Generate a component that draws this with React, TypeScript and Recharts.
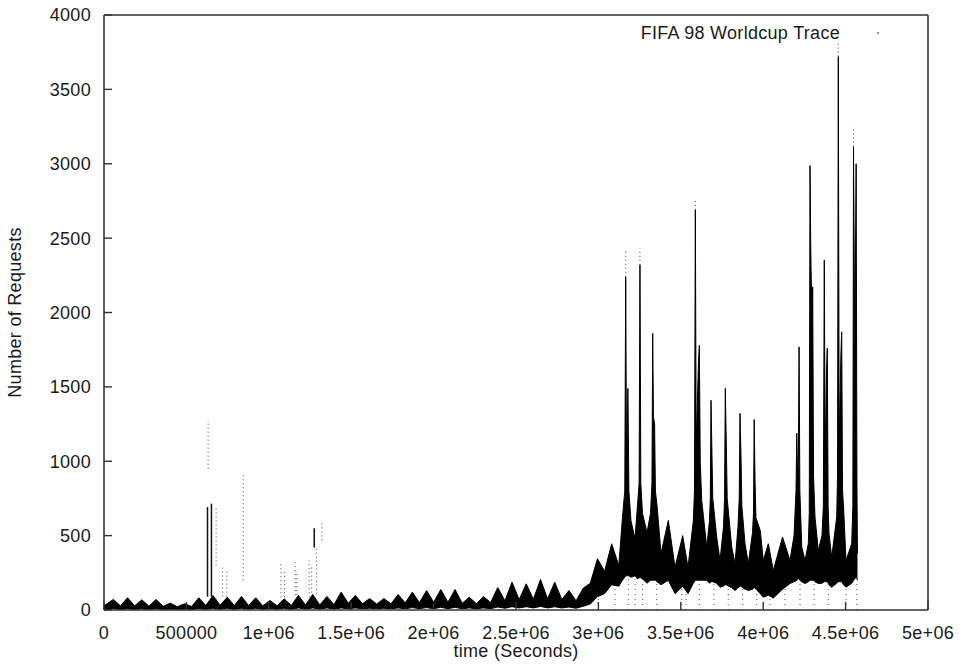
import React from 'react';
import { ComposedChart, Area, XAxis, YAxis, ReferenceLine, Label } from 'recharts';

// Request-rate envelope before the tournament: one sample at each daily
// peak and trough.
const earlyTime = [
  0, 56600, 99800, 143000, 186200, 229400, 272600, 315800, 359000, 402200,
  445400, 488600, 531800, 575000, 618200, 661400, 704600, 747800, 791000, 834200,
  877400, 920600, 963800, 1007000, 1050200, 1093400, 1136600, 1179800, 1223000, 1266200,
  1309400, 1352600, 1395800, 1439000, 1482200, 1525400, 1568600, 1611800, 1655000, 1698200,
  1741400, 1784600, 1827800, 1871000, 1914200, 1957400, 2000600, 2043800, 2087000, 2130200,
  2173400, 2216600, 2259800, 2303000, 2346200, 2389400, 2432600, 2475800, 2519000, 2562200,
  2605400, 2648600, 2691800, 2735000, 2778200, 2821400, 2864600, 2907800, 2951000, 2994200,
  3037400, 3080600, 3123800,
];
const earlyLow = [
  4, 8, 4, 8, 4, 8, 4, 8, 3, 6,
  3, 6, 3, 10, 5, 12, 5, 12, 5, 12,
  5, 12, 5, 10, 5, 12, 5, 14, 6, 14,
  6, 14, 6, 14, 8, 14, 8, 12, 8, 12,
  8, 14, 8, 16, 9, 16, 9, 18, 9, 18,
  8, 14, 8, 14, 9, 20, 12, 22, 14, 22,
  14, 24, 14, 22, 14, 20, 12, 25, 40, 90,
  110, 170, 160,
];
const earlyHigh = [
  28, 71, 28, 82, 28, 69, 26, 71, 25, 46,
  22, 42, 24, 82, 30, 98, 32, 86, 30, 91,
  30, 82, 28, 64, 28, 75, 30, 98, 34, 104,
  34, 91, 36, 120, 45, 98, 42, 77, 40, 77,
  42, 104, 48, 120, 50, 131, 52, 138, 52, 138,
  45, 86, 42, 90, 50, 151, 62, 187, 70, 176,
  72, 205, 75, 187, 70, 131, 62, 147, 180, 345,
  260, 445, 300,
];

// Match days: extra samples around each burst (base, neck, top, shoulder).
const lateTime = [
  3146000, 3160000, 3165700, 3171000, 3179000, 3185000, 3197800, 3222000,
  3237000, 3247000, 3252200, 3257500, 3267400, 3294900,
  3316200, 3325000, 3329500, 3334000, 3341000, 3346000, 3356000, 3379900,
  3424200, 3464900, 3511500, 3543700,
  3576100, 3583000, 3588200, 3593500, 3607000, 3612500, 3618000, 3627000, 3657300,
  3674100, 3679000, 3683300, 3689000, 3694000, 3717900, 3737900,
  3759200, 3765500, 3770100, 3776000, 3781500, 3808900, 3828900,
  3847100, 3854500, 3859200, 3865000, 3870500, 3889600, 3909600,
  3935000, 3941000, 3945300, 3950500, 3956000, 3982100, 4000600,
  4031000, 4061400, 4117400, 4162600,
  4187000, 4199000, 4203800, 4209000, 4213500, 4217700, 4222500, 4234100, 4253700,
  4273700, 4279500, 4284000, 4289000, 4295000, 4300400, 4305500, 4314400, 4334400,
  4356700, 4365000, 4370700, 4376000, 4384000, 4388900, 4394000, 4399300, 4415700,
  4446000, 4451000, 4455700, 4461000, 4471000, 4476300, 4481500, 4487300, 4502500,
  4537000, 4544000, 4548000, 4556000, 4564000, 4569000, 4572000,
];
const lateLow = [
  200, 220, 230, 230, 230, 230, 220, 230,
  210, 215, 220, 215, 210, 180,
  200, 200, 200, 200, 200, 200, 190, 170,
  200, 110, 160, 110,
  180, 190, 200, 200, 200, 200, 200, 200, 200,
  180, 185, 190, 190, 190, 180, 153,
  160, 165, 170, 170, 165, 150, 131,
  150, 155, 160, 160, 155, 140, 131,
  140, 145, 150, 150, 140, 110, 86,
  100, 80, 140, 178,
  190, 195, 200, 205, 210, 210, 200, 190, 178,
  190, 195, 200, 200, 200, 200, 200, 190, 178,
  180, 185, 190, 190, 190, 190, 180, 170, 153,
  180, 185, 190, 190, 190, 190, 180, 170, 153,
  180, 190, 200, 210, 220, 210, 200,
];
const lateHigh = [
  620, 800, 2240, 900, 1490, 800, 600, 480,
  700, 850, 2320, 850, 650, 520,
  650, 850, 1860, 1300, 1250, 800, 700, 380,
  602, 288, 500, 288,
  600, 800, 2690, 1100, 1660, 1780, 1000, 737, 423,
  600, 750, 1410, 1053, 750, 490, 333,
  560, 750, 1490, 1120, 750, 423, 313,
  560, 750, 1322, 1054, 700, 445, 313,
  520, 650, 1280, 870, 620, 535, 333,
  445, 266, 490, 333,
  500, 800, 1188, 900, 1000, 1769, 800, 423, 333,
  445, 650, 2985, 2400, 2000, 2173, 900, 625, 400,
  500, 700, 2352, 1000, 1600, 1760, 700, 515, 355,
  625, 900, 3720, 1100, 1700, 1870, 800, 700, 333,
  445, 700, 3115, 1750, 3000, 800, 380,
];

// Thinly scattered samples (drawn as dotted columns)
const sparseTime = [632000, 680000, 720000, 745000, 845000, 1074000, 1095000, 1160000, 1170000, 1245000, 1260000, 1290000, 1322000, 3165700, 3252200, 3588200, 4284000, 4455700, 4548000];
const sparseLow = [950, 300, 90, 90, 200, 86, 86, 100, 100, 86, 90, 110, 468, 2240, 2320, 2690, 2985, 3720, 3115];
const sparseHigh = [1275, 690, 300, 260, 917, 330, 270, 320, 260, 333, 290, 420, 590, 2420, 2430, 2756, 3014, 3811, 3250];

// Short dense bursts early in the trace
const streakTime = [628000, 652000, 1276000];
const streakLow = [90, 90, 420];
const streakHigh = [692, 715, 550];

// Isolated low readings between the envelope and zero
const dropTime = [2403000, 2494000, 2665700, 2838000, 2999500, 3101000, 3181500, 3222000, 3268800, 3353700, 3505500, 3531600, 3612500, 3700900, 3788300, 3875600, 3960600, 4041300, 4132300, 4223300, 4308300, 4395100, 4502500, 4567400];
const dropTop = [14, 14, 14, 12, 90, 170, 230, 230, 210, 190, 160, 110, 200, 180, 170, 150, 150, 90, 150, 200, 200, 180, 153, 200];

const xTicks = [0, 500000, 1000000, 1500000, 2000000, 2500000, 3000000, 3500000, 4000000, 4500000, 5000000];
const xTickLabels = ['0', '500000', '1e+06', '1.5e+06', '2e+06', '2.5e+06', '3e+06', '3.5e+06', '4e+06', '4.5e+06', '5e+06'];
const yTicks = [0, 500, 1000, 1500, 2000, 2500, 3000, 3500, 4000];

const seriesName = 'FIFA 98 Worldcup Trace';
const xTitle = 'time (Seconds)';
const yTitle = 'Number of Requests';

const BORDER = '#333';
const INK = '#1a1a1a';
const FONT = 18;

const bandTime = [...earlyTime, ...lateTime];
const bandLow = [...earlyLow, ...lateLow];
const bandHigh = [...earlyHigh, ...lateHigh];
const data = bandTime.map((t, i) => ({ t, range: [bandLow[i], bandHigh[i]] }));

const XTitle = (props: any) => {
  const vb = props.viewBox;
  return (
    <text x={vb.x + vb.width / 2} y={vb.y + vb.height - 10} textAnchor="middle" fontSize={FONT} fill={INK}>
      {xTitle}
    </text>
  );
};

const YTitle = (props: any) => {
  const vb = props.viewBox;
  const x = vb.x - 13;
  const y = vb.y + vb.height / 2;
  return (
    <text x={x} y={y} transform={`rotate(-90 ${x} ${y})`} textAnchor="middle" fontSize={FONT} fill={INK}>
      {yTitle}
    </text>
  );
};

const Key = (props: any) => {
  const vb = props.viewBox;
  const right = vb.x + vb.width;
  return (
    <g>
      <text x={right - 88} y={39} textAnchor="end" fontSize={FONT} fill={INK}>
        {seriesName}
      </text>
      <circle cx={right - 50} cy={33} r={0.9} fill="#666" />
    </g>
  );
};

const axisLine = { stroke: BORDER, strokeWidth: 1.6 };
const tickLine = { stroke: BORDER, strokeWidth: 1.4 };

export default function App() {
  return (
    <div style={{ fontFamily: '"Liberation Sans", Arial, Helvetica, sans-serif', letterSpacing: '0.3px' }}>
      <style>{'html,body{margin:0;padding:0;overflow:hidden;background:#fff}'}</style>
      <ComposedChart width={963} height={667} data={data} margin={{ top: 0, right: 30, bottom: 0, left: 34 }}>
        <XAxis
          xAxisId={0}
          dataKey="t"
          type="number"
          domain={[0, 5000000]}
          ticks={xTicks}
          interval={0}
          allowDataOverflow
          height={57}
          tickSize={-8}
          tickMargin={24}
          axisLine={axisLine}
          tickLine={tickLine}
          tick={{ fontSize: FONT, fill: INK }}
          tickFormatter={(v: number) => xTickLabels[xTicks.indexOf(v)]}
        >
          <Label content={XTitle} />
        </XAxis>
        <XAxis
          xAxisId="top"
          orientation="top"
          dataKey="t"
          type="number"
          domain={[0, 5000000]}
          ticks={xTicks}
          interval={0}
          allowDataOverflow
          height={15}
          tickSize={-8}
          axisLine={axisLine}
          tickLine={tickLine}
          tick={false}
        >
          <Label content={Key} />
        </XAxis>
        <YAxis
          yAxisId={0}
          type="number"
          domain={[0, 4000]}
          ticks={yTicks}
          interval={0}
          allowDataOverflow
          width={70}
          tickSize={-8}
          tickMargin={21}
          axisLine={axisLine}
          tickLine={tickLine}
          tick={{ fontSize: FONT, fill: INK }}
        >
          <Label content={YTitle} />
        </YAxis>
        <YAxis
          yAxisId="right"
          orientation="right"
          type="number"
          domain={[0, 4000]}
          ticks={yTicks}
          interval={0}
          allowDataOverflow
          width={5}
          tickSize={-8}
          axisLine={axisLine}
          tickLine={tickLine}
          tick={false}
        />
        {dropTime.map((t, i) => (
          <ReferenceLine
            key={`d${i}`}
            xAxisId={0}
            yAxisId={0}
            segment={[{ x: t, y: 0 }, { x: t, y: dropTop[i] }]}
            stroke="#555"
            strokeWidth={1}
            strokeDasharray="1 4"
          />
        ))}
        <Area
          xAxisId={0}
          yAxisId={0}
          dataKey="range"
          type="linear"
          stroke="#000"
          strokeWidth={1}
          fill="#000"
          fillOpacity={1}
          dot={false}
          activeDot={false}
          isAnimationActive={false}
        />
        {sparseTime.map((t, i) => (
          <ReferenceLine
            key={`s${i}`}
            xAxisId={0}
            yAxisId={0}
            segment={[{ x: t, y: sparseLow[i] }, { x: t, y: sparseHigh[i] }]}
            stroke="#444"
            strokeWidth={1}
            strokeDasharray="1 3"
          />
        ))}
        {streakTime.map((t, i) => (
          <ReferenceLine
            key={`k${i}`}
            xAxisId={0}
            yAxisId={0}
            segment={[{ x: t, y: streakLow[i] }, { x: t, y: streakHigh[i] }]}
            stroke="#111"
            strokeWidth={1.5}
          />
        ))}
      </ComposedChart>
    </div>
  );
}
